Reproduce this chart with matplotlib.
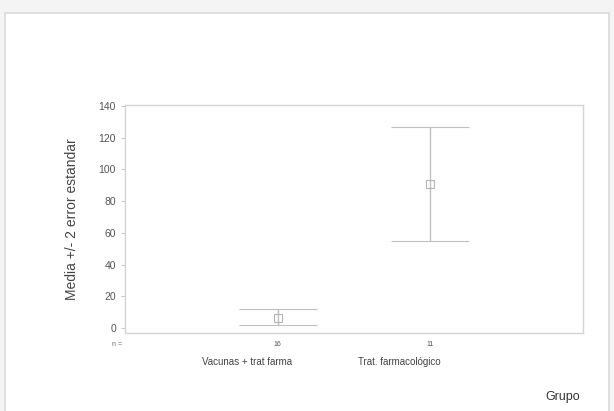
import matplotlib.pyplot as plt
from matplotlib.patches import Rectangle

plt.rcParams["font.family"] = ["Liberation Sans", "DejaVu Sans"]

groups = ["Vacunas + trat farma", "Trat. farmacológico"]
n_labels = ["16", "11"]
means = [6.5, 91]
err_lo = [4.5, 36]
err_hi = [5.5, 36]
yticks = [0, 20, 40, 60, 80, 100, 120, 140]

fig = plt.figure(figsize=(6.14, 4.11), dpi=100)
fig.patch.set_facecolor("#f4f4f4")

# white panel with light frame, behind the axes
fig.patches.append(Rectangle((0.008, -0.01), 0.984, 0.978, transform=fig.transFigure,
                             facecolor="white", edgecolor="#dadada", lw=1.2, zorder=-5))

ax = fig.add_axes([125 / 614, 1 - 333 / 411, 458 / 614, 228 / 411])
ax.set_xlim(0, 3)
ax.set_ylim(-3.2, 140.6)

x = [1, 2]
ax.errorbar(x, means, yerr=[err_lo, err_hi], fmt="s", mfc="none", mec="#b4b4b4",
            ms=6, mew=0.8, ecolor="#c0c0c0", elinewidth=1.0, capsize=28, capthick=1.0)

for sp in ax.spines.values():
    sp.set_color("#d4d4d4")
    sp.set_linewidth(1.0)

ax.set_yticks(yticks)
ax.set_xticks([])
ax.tick_params(axis="y", colors="#c8c8c8", labelcolor="#555555", labelsize=7.5, length=3, width=0.8)

ax.set_ylabel("Media +/- 2 error estandar", fontsize=10, color="#444444", labelpad=14)

# n labels and group names
ax.text(-0.018, -0.035, "n =", transform=ax.transAxes, fontsize=5, color="#666666",
        ha="center", va="top")
for xi, n, g in zip(x, n_labels, groups):
    ax.annotate(n, (xi, 0), xycoords=("data", "axes fraction"), xytext=(0, -6),
                textcoords="offset points", fontsize=5, color="#555555", ha="center", va="top")
    ax.annotate(g, (xi, 0), xycoords=("data", "axes fraction"), xytext=(-22, -17),
                textcoords="offset points", fontsize=7, color="#444444", ha="center", va="top")

fig.text(563 / 614, 1 - 397 / 411, "Grupo", fontsize=9, color="#333333", ha="center", va="center")

fig.savefig("out.png", dpi=100)
